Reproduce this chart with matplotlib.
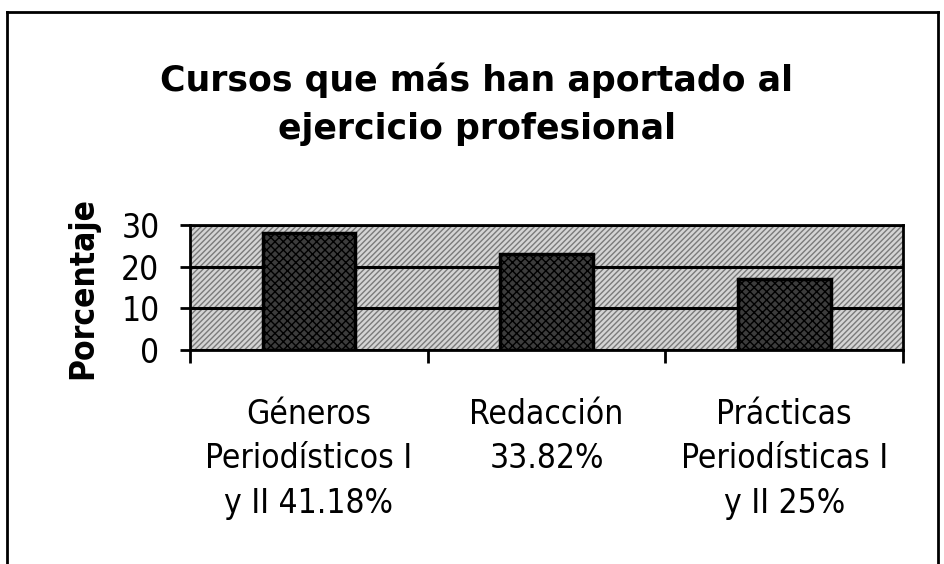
import matplotlib.pyplot as plt
from matplotlib.patches import Rectangle
from matplotlib.lines import Line2D

cursos = ['Géneros\nPeriodísticos I\ny II 41.18%',
          'Redacción\n33.82%\n',
          'Prácticas\nPeriodísticas I\ny II 25%']
valores = [28, 23, 17]
yticks = [0, 10, 20, 30]

narrow = dict(family=['Liberation Sans Narrow', 'DejaVu Sans'], stretch='condensed')

fig = plt.figure(figsize=(9.44, 5.64), dpi=100)
ax = fig.add_axes([0.2013, 0.3794, 0.7553, 0.2216])

# stippled grey plot area
ax.set_facecolor('#d4d4d4')
ax.add_patch(Rectangle((0, 0), 1, 1, transform=ax.transAxes, facecolor='none',
                       edgecolor='#7a7a7a', hatch='//////', linewidth=0, zorder=0))

x = range(len(valores))
ax.bar(x, valores, width=0.39, color='#3c3c3c', edgecolor='black',
       linewidth=2.5, hatch='xxxx', zorder=3)

ax.set_xlim(-0.5, 2.5)
ax.set_ylim(0, 30)
ax.set_yticks(yticks)
ax.set_yticklabels([str(v) for v in yticks], fontsize=24, **narrow)
ax.yaxis.grid(True, color='black', linewidth=2.2, zorder=2)
ax.set_axisbelow(False)
ax.tick_params(axis='y', length=7, width=2, pad=15, direction='out')

# category labels and boundary ticks
ax.set_xticks([-0.5, 0.5, 1.5, 2.5])
ax.set_xticklabels([])
ax.tick_params(axis='x', length=9, width=2, direction='out')
for xi, lab in zip(x, cursos):
    ax.text(xi, -0.38, lab, transform=ax.get_xaxis_transform(), ha='center', va='top',
            fontsize=24, linespacing=1.45, **narrow)

for s in ax.spines.values():
    s.set_linewidth(2)
    s.set_color('black')

ax.set_ylabel('Porcentaje', fontsize=24, fontweight='heavy', labelpad=16, **narrow)

fig.text(0.505, 0.815, 'Cursos que más han aportado al\nejercicio profesional',
         ha='center', va='center', fontsize=25, fontweight='heavy', linespacing=1.5)

# outer frame (no bottom edge)
for xs, ys in [([0.0074, 0.0074], [0, 0.979]), ([0.0074, 0.9936], [0.979, 0.979]),
               ([0.9936, 0.9936], [0.979, 0])]:
    fig.add_artist(Line2D(xs, ys, color='black', linewidth=2, transform=fig.transFigure))

fig.savefig('out.png', dpi=100)
